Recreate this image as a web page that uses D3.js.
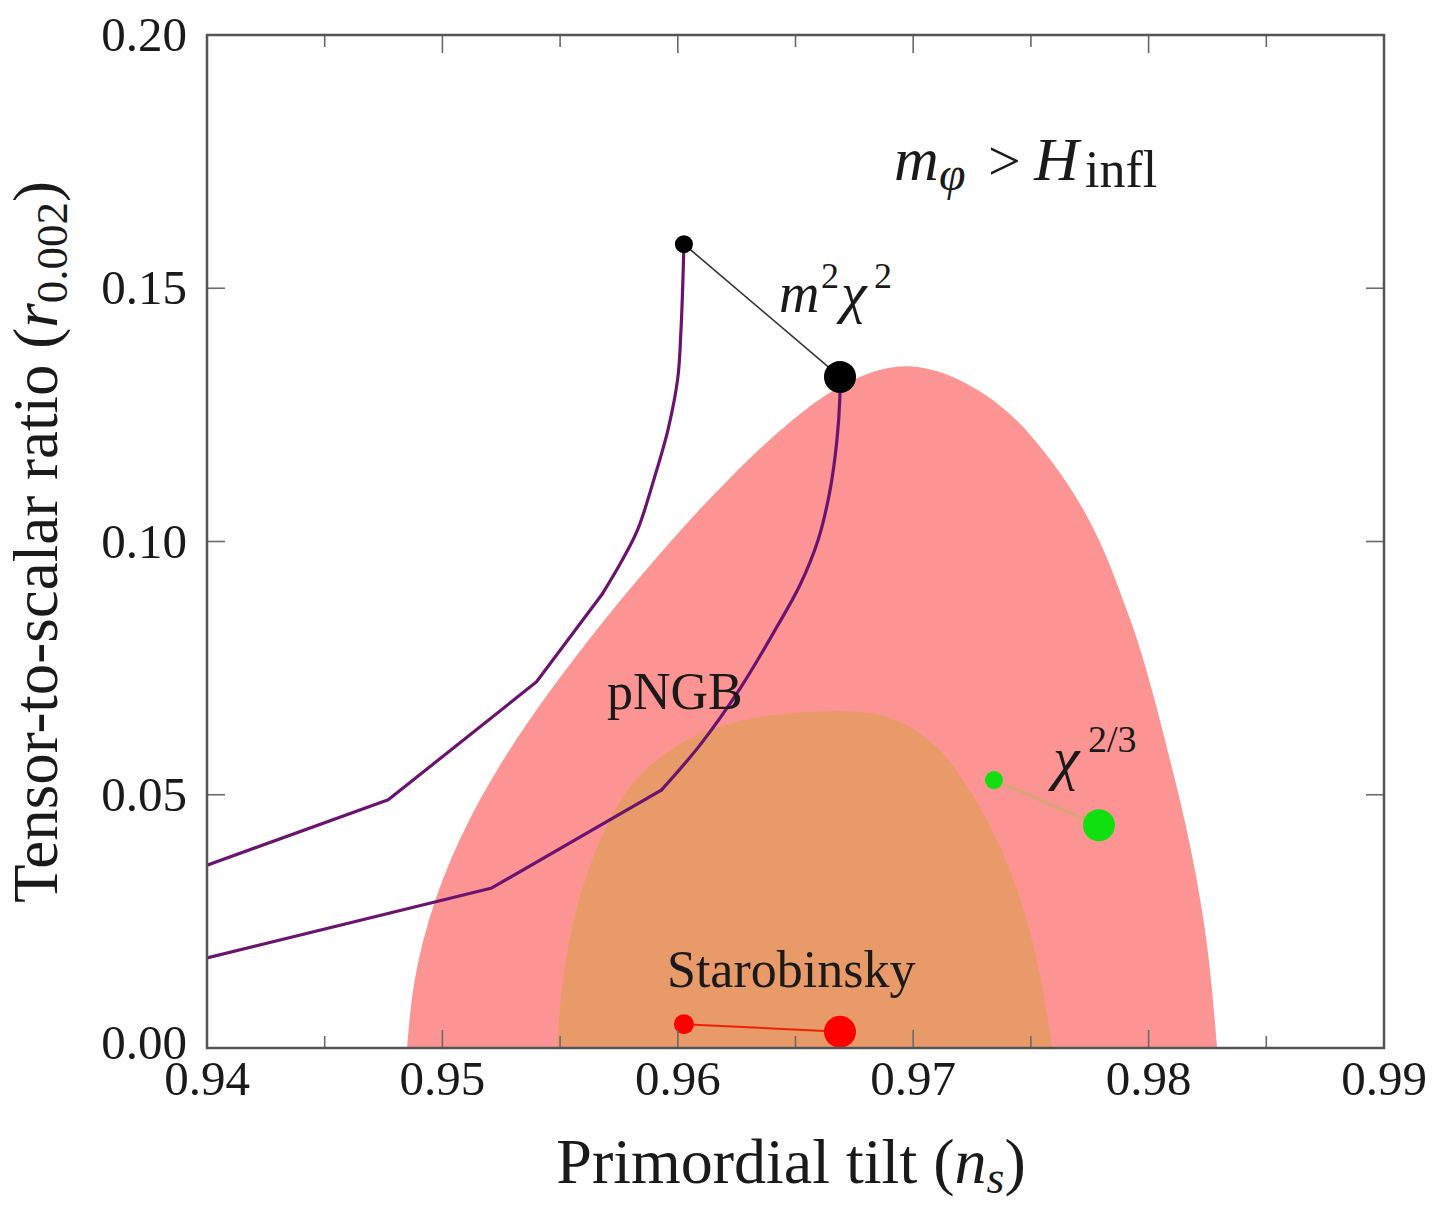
<!DOCTYPE html>
<html>
<head>
<meta charset="utf-8">
<script src="https://cdn.jsdelivr.net/npm/d3@7"></script>
<style>
  html, body { margin: 0; padding: 0; background: #fff; }
  svg { display: block; }
  text { font-family: "Liberation Serif", "Times New Roman", serif; fill: #1a1a1a; }
</style>
</head>
<body>
<svg id="chart" width="1434" height="1210"></svg>
<script>
// ---------------- data ----------------
const xTickMajor = [0.94, 0.95, 0.96, 0.97, 0.98, 0.99];
const xTickMinor = [0.945, 0.955, 0.965, 0.975, 0.985];
const yTickMajor = [0.00, 0.05, 0.10, 0.15, 0.20];
const xTickLabels = ["0.94", "0.95", "0.96", "0.97", "0.98", "0.99"];
const yTickLabels = ["0.00", "0.05", "0.10", "0.15", "0.20"];

// 95% CL contour (pink) boundary, [ns, r]
const contour95 = [
  [0.94850, 0.0000], [0.94867, 0.0095], [0.94897, 0.0174], [0.94941, 0.0253],
  [0.94999, 0.0332], [0.95071, 0.0411], [0.95157, 0.0490], [0.95257, 0.0569],
  [0.95369, 0.0648], [0.95491, 0.0727], [0.95621, 0.0806], [0.95757, 0.0885],
  [0.95900, 0.0963], [0.96050, 0.1043], [0.96210, 0.1121], [0.96385, 0.1200],
  [0.96530, 0.1257], [0.96660, 0.1300], [0.96780, 0.1328], [0.96890, 0.1344],
  [0.96990, 0.1348], [0.97100, 0.1338], [0.97200, 0.1319], [0.97310, 0.1290],
  [0.97420, 0.1250], [0.97520, 0.1200], [0.97650, 0.1121], [0.97750, 0.1043],
  [0.97830, 0.0963], [0.97890, 0.0885], [0.97955, 0.0806], [0.98027, 0.0687],
  [0.98091, 0.0569], [0.98155, 0.0450], [0.98206, 0.0332], [0.98248, 0.0213],
  [0.98274, 0.0095], [0.98291, 0.0000]
];
// 68% CL contour (orange) boundary, [ns, r]
const contour68 = [
  [0.95487, 0.0000], [0.95500, 0.0095], [0.95529, 0.0193], [0.95576, 0.0292],
  [0.95648, 0.0391], [0.95750, 0.0490], [0.95855, 0.0549], [0.95990, 0.0598],
  [0.96158, 0.0636], [0.96392, 0.0659], [0.96647, 0.0667], [0.96817, 0.0663],
  [0.96944, 0.0648], [0.97071, 0.0608], [0.97156, 0.0569], [0.97241, 0.0509],
  [0.97339, 0.0430], [0.97432, 0.0332], [0.97509, 0.0213], [0.97560, 0.0095],
  [0.97590, 0.0000]
];
// pNGB curves (purple): straight low part + smooth upper part
const pngbLeftLow = [
  [0.9400, 0.0361], [0.9477, 0.0490], [0.9540, 0.0723], [0.9568, 0.0897]
];
const pngbLeftHigh = [
  [0.9568, 0.0897], [0.9576, 0.0960], [0.9583, 0.1024], [0.9590, 0.1125],
  [0.9596, 0.1224], [0.9600, 0.1323], [0.96014, 0.1422], [0.96022, 0.1520],
  [0.96026, 0.1587]
];
const pngbRightLow = [
  [0.9400, 0.0178], [0.9521, 0.0316], [0.9593, 0.0509]
];
const pngbRightHigh = [
  [0.9593, 0.0509], [0.96094, 0.0598], [0.96265, 0.0710], [0.96413, 0.0825],
  [0.96519, 0.0914], [0.96596, 0.1003], [0.96647, 0.1102], [0.96676, 0.1200],
  [0.96688, 0.1279], [0.96689, 0.1325]
];
// model predictions: [ns, r] for N=50 (small dot) and N=60 (large dot)
const m2chi2 = [[0.96026, 0.1587], [0.96689, 0.1325]];
const chi23 = [[0.97343, 0.0529], [0.97789, 0.0440]];
const starobinsky = [[0.96026, 0.0047], [0.96689, 0.0032]];

// ---------------- layout ----------------
const svg = d3.select("#chart");
const L = 207, R = 1384, T = 35, B = 1048;
const x = d3.scaleLinear().domain([0.94, 0.99]).range([L, R]);
const y = d3.scaleLinear().domain([0, 0.20]).range([B, T]);

svg.append("defs").append("clipPath").attr("id", "clip")
  .append("rect").attr("x", L).attr("y", T).attr("width", R - L).attr("height", B - T);

const plot = svg.append("g").attr("clip-path", "url(#clip)");

const smooth = d3.line().x(d => x(d[0])).y(d => y(d[1])).curve(d3.curveCatmullRom.alpha(0.5));
const blob = d3.line().x(d => x(d[0])).y(d => y(d[1])).curve(d3.curveBasis);
const poly = d3.line().x(d => x(d[0])).y(d => y(d[1]));

plot.append("path").attr("d", blob(contour95) + "Z").attr("fill", "#fc9494");
plot.append("path").attr("d", blob(contour68) + "Z").attr("fill", "#e89b68");

// ticks (inside, drawn over fills)
const tickG = svg.append("g").attr("stroke", "#6a6a6a").attr("stroke-width", 1.6);
xTickMajor.forEach(v => {
  tickG.append("line").attr("x1", x(v)).attr("x2", x(v)).attr("y1", B).attr("y2", B - 18);
  tickG.append("line").attr("x1", x(v)).attr("x2", x(v)).attr("y1", T).attr("y2", T + 18);
});
xTickMinor.forEach(v => {
  tickG.append("line").attr("x1", x(v)).attr("x2", x(v)).attr("y1", B).attr("y2", B - 12);
  tickG.append("line").attr("x1", x(v)).attr("x2", x(v)).attr("y1", T).attr("y2", T + 12);
});
yTickMajor.forEach(v => {
  tickG.append("line").attr("y1", y(v)).attr("y2", y(v)).attr("x1", L).attr("x2", L + 18);
  tickG.append("line").attr("y1", y(v)).attr("y2", y(v)).attr("x1", R).attr("x2", R - 18);
});

// pNGB curves
const purple = "#6a1470";
[[pngbLeftLow, poly], [pngbLeftHigh, smooth], [pngbRightLow, poly], [pngbRightHigh, smooth]]
  .forEach(([d, gen]) => {
    plot.append("path").attr("d", gen(d)).attr("fill", "none")
      .attr("stroke", purple).attr("stroke-width", 3.2)
      .attr("stroke-linejoin", "round").attr("stroke-linecap", "round");
  });

// model lines + dots
function model(data, lineColor, lineWidth, dotColor, rSmall, rBig) {
  plot.append("path").attr("d", poly(data)).attr("fill", "none")
    .attr("stroke", lineColor).attr("stroke-width", lineWidth);
  plot.append("circle").attr("cx", x(data[0][0])).attr("cy", y(data[0][1])).attr("r", rSmall).attr("fill", dotColor);
  svg.append("circle").attr("cx", x(data[1][0])).attr("cy", y(data[1][1])).attr("r", rBig).attr("fill", dotColor);
}
model(m2chi2, "#333", 1.6, "#000", 9, 16);
model(chi23, "#d6a673", 3, "#10e010", 9, 16);
model(starobinsky, "#ee2200", 2, "#ff0000", 10, 16);

// frame
svg.append("rect").attr("x", L).attr("y", T).attr("width", R - L).attr("height", B - T)
  .attr("fill", "none").attr("stroke", "#555").attr("stroke-width", 2.5);

// tick labels
xTickMajor.forEach((v, i) => {
  svg.append("text").attr("x", x(v)).attr("y", B + 47).attr("text-anchor", "middle")
    .attr("font-size", 49).text(xTickLabels[i]);
});
yTickMajor.forEach((v, i) => {
  svg.append("text").attr("x", L - 20).attr("y", y(v) + (v === 0 ? 11 : 16)).attr("text-anchor", "end")
    .attr("font-size", 49).text(yTickLabels[i]);
});

// axis titles
const xt = svg.append("text").attr("x", 791).attr("y", 1183).attr("text-anchor", "middle")
  .attr("font-size", 64);
xt.append("tspan").text("Primordial tilt (");
xt.append("tspan").attr("font-style", "italic").text("n");
xt.append("tspan").attr("font-style", "italic").attr("font-size", 46).attr("dy", 10).text("s");
xt.append("tspan").attr("dy", -10).text(")");

const yt = svg.append("text").attr("transform", "translate(57,542) rotate(-90)")
  .attr("text-anchor", "middle").attr("font-size", 63);
yt.append("tspan").text("Tensor-to-scalar ratio (");
yt.append("tspan").attr("font-style", "italic").text("r");
yt.append("tspan").attr("font-size", 45).attr("dy", 10).text("0.002");
yt.append("tspan").attr("dy", -10).text(")");

// annotations
const ann = svg.append("g");
ann.append("text").attr("x", 894).attr("y", 180).attr("font-size", 62).attr("font-style", "italic").text("m");
ann.append("text").attr("x", 939).attr("y", 190).attr("font-size", 48).attr("font-style", "italic").text("φ");
ann.append("text").attr("x", 988).attr("y", 180).attr("font-size", 58).text(">");
ann.append("text").attr("x", 1034).attr("y", 180).attr("font-size", 62).attr("font-style", "italic").text("H");
ann.append("text").attr("x", 1085).attr("y", 187).attr("font-size", 52).text("infl");

ann.append("text").attr("x", 779).attr("y", 312).attr("font-size", 56).attr("font-style", "italic").text("m");
ann.append("text").attr("x", 821).attr("y", 288).attr("font-size", 36).text("2");
ann.append("text").attr("x", 841).attr("y", 312).attr("font-size", 58).attr("font-style", "italic").text("χ");
ann.append("text").attr("x", 874).attr("y", 288).attr("font-size", 36).text("2");

ann.append("text").attr("x", 607).attr("y", 709).attr("font-size", 52).text("pNGB");

ann.append("text").attr("x", 1053).attr("y", 778).attr("font-size", 60).attr("font-style", "italic").text("χ");
ann.append("text").attr("x", 1088).attr("y", 752).attr("font-size", 38).text("2/3");

ann.append("text").attr("x", 667).attr("y", 987).attr("font-size", 52).text("Starobinsky");
</script>
</body>
</html>
